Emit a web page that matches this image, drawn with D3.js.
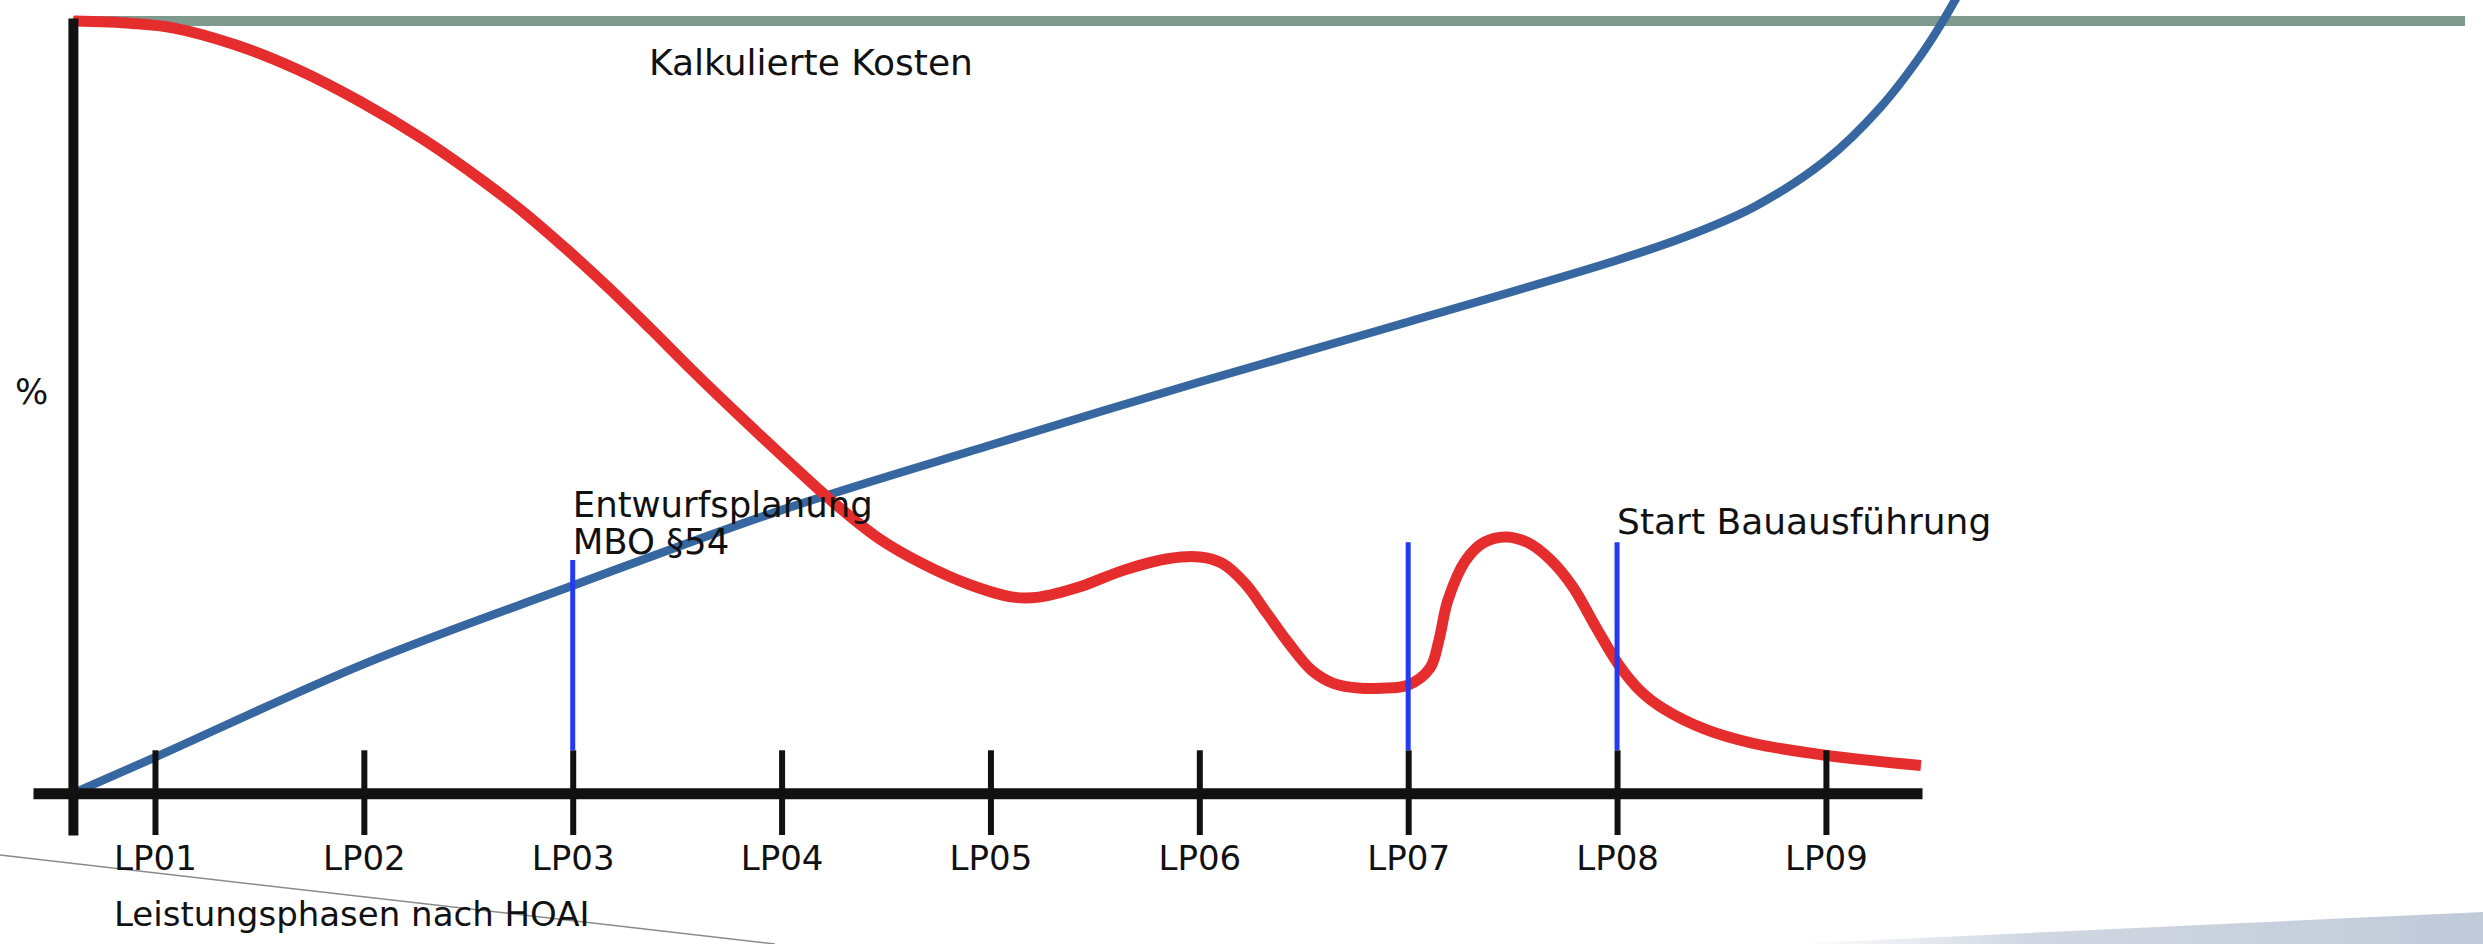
<!doctype HTML>
<html>
<head>
    <script src="https://d3js.org/d3.v7.min.js"></script>
    <style>
        body { margin: 0; background: #fff; }
        text { font-family: "DejaVu Sans", Verdana, sans-serif; fill: #111; }
    </style>
</head>
<body>
<script>

    // phases on the x axis (index 1..9)
    var phaseIdx = [1, 2, 3, 4, 5, 6, 7, 8, 9];
    var phaseLabels = ["LP01", "LP02", "LP03", "LP04", "LP05", "LP06", "LP07", "LP08", "LP09"];

    // red curve: influence on costs (phase position, percent)
    var redT = [0.612, 0.890, 1.091, 1.388, 1.685, 1.981, 2.283, 2.580, 2.776, 2.977, 3.174, 3.375, 3.571,
        3.825, 4.035, 4.251, 4.466, 4.677, 4.892, 5.108, 5.232, 5.424, 5.639, 5.855, 6.003, 6.108, 6.218,
        6.324, 6.429, 6.539, 6.645, 6.774, 6.870, 6.999, 7.104, 7.147, 7.190, 7.276, 7.363, 7.468, 7.578,
        7.683, 7.789, 7.899, 8.004, 8.110, 8.220, 8.430, 8.646, 9.005, 9.455];
    var redV = [100, 99.7, 99.1, 96.9, 93.7, 89.6, 84.7, 79.1, 75.0, 70.3, 65.4, 60.1, 54.8,
        48.2, 42.9, 37.6, 33.0, 29.7, 27.1, 25.4, 25.4, 26.7, 28.9, 30.4, 30.6, 29.8, 27.2,
        23.3, 19.4, 15.9, 14.2, 13.6, 13.6, 14.0, 16.2, 19.8, 25.0, 30.2, 32.5, 33.2, 32.4,
        30.2, 26.7, 21.5, 16.8, 13.3, 11.0, 8.2, 6.5, 4.9, 3.6];

    // blue curve: accumulated costs
    var blueT = [0.607, 1, 2.005, 3.001, 4.002, 5.002, 5.993, 6.994, 7.995, 8.33, 8.66, 9.0, 9.26, 9.45, 9.56, 9.7];
    var blueV = [0, 4.66, 16.8, 26.9, 36.7, 45.1, 53.2, 61.0, 69.0, 72.1, 76.0, 82.0, 88.8, 95.4, 100, 106.7];

    // calculated costs line (100 %)
    var kostenT = [0.607, 12.06];
    var kostenV = [100, 100];

    // milestone markers
    var markerT = [3, 7, 8];
    var markerTop = [30.2, 32.5, 32.5];

    var width = 2483, height = 944;

    var svg = d3.select("body")
        .append("svg")
        .attr("width", width)
        .attr("height", height);

    var x = d3.scaleLinear().domain([0.416, 9.46]).range([33, 1922]);
    var y = d3.scaleLinear().domain([-5.4, 100.4]).range([835, 18]);
    var yAxisT = 0.607;

    // light wedge bottom right
    var grad = svg.append("defs").append("linearGradient")
        .attr("id", "wedge")
        .attr("x1", "0%").attr("x2", "100%").attr("y1", "0%").attr("y2", "0%");
    grad.append("stop").attr("offset", "0%").attr("stop-color", "#c8d0dd").attr("stop-opacity", 0);
    grad.append("stop").attr("offset", "35%").attr("stop-color", "#c8d0dd").attr("stop-opacity", 0.85);
    grad.append("stop").attr("offset", "100%").attr("stop-color", "#c0cad8").attr("stop-opacity", 1);
    svg.append("polygon")
        .attr("points", "1790,944 2483,912 2483,944")
        .attr("fill", "url(#wedge)");

    // thin grey line bottom left
    svg.append("line")
        .attr("x1", 0).attr("y1", 855)
        .attr("x2", 775).attr("y2", 944)
        .attr("stroke", "#8a8a8a")
        .attr("stroke-width", 1.5);

    var line = d3.line()
        .x(function(d) { return x(d[0]); })
        .y(function(d) { return y(d[1]); })
        .curve(d3.curveCatmullRom.alpha(0.5));

    // calculated costs
    svg.append("path")
        .datum(d3.zip(kostenT, kostenV))
        .attr("fill", "none")
        .attr("stroke", "#7f998e")
        .attr("stroke-width", 10)
        .attr("d", d3.line().x(function(d) { return x(d[0]); }).y(function(d) { return y(d[1]); }));

    // blue curve
    svg.append("path")
        .datum(d3.zip(blueT, blueV))
        .attr("fill", "none")
        .attr("stroke", "#3767a0")
        .attr("stroke-width", 8.5)
        .attr("stroke-linecap", "round")
        .attr("d", line);

    // red curve
    svg.append("path")
        .datum(d3.zip(redT, redV))
        .attr("fill", "none")
        .attr("stroke", "#e52d2d")
        .attr("stroke-width", 11)
        .attr("d", line);

    // x axis with ticks crossing the axis line
    var xAxis = svg.append("g")
        .attr("transform", "translate(0," + y(0) + ")")
        .call(d3.axisBottom(x)
            .tickValues(phaseIdx)
            .tickFormat(function(d, i) { return phaseLabels[i]; })
            .tickSizeInner(y(-5.4) - y(0))
            .tickSizeOuter(0)
            .tickPadding(11));
    xAxis.select(".domain")
        .attr("stroke", "#111")
        .attr("stroke-width", 11);
    xAxis.selectAll(".tick line")
        .attr("stroke", "#111")
        .attr("stroke-width", 6)
        .attr("y1", y(5.57) - y(0));
    xAxis.selectAll(".tick text")
        .attr("font-size", "34px")
        .attr("font-family", "DejaVu Sans")
        .attr("fill", "#111");

    // y axis, just the line
    var yAxis = svg.append("g")
        .attr("transform", "translate(" + x(yAxisT) + ",0)")
        .call(d3.axisLeft(y).tickValues([]).tickSizeOuter(0));
    yAxis.select(".domain")
        .attr("stroke", "#111")
        .attr("stroke-width", 10);

    // milestone markers
    svg.selectAll(".marker")
        .data(markerT)
        .enter().append("line")
        .attr("class", "marker")
        .attr("x1", function(d) { return x(d); })
        .attr("x2", function(d) { return x(d); })
        .attr("y1", function(d, i) { return y(markerTop[i]); })
        .attr("y2", y(5.57))
        .attr("stroke", "#2439f2")
        .attr("stroke-width", 5);

    // labels
    svg.append("text")
        .attr("x", 649).attr("y", 75)
        .attr("font-size", "36px")
        .text("Kalkulierte Kosten");

    svg.append("text")
        .attr("x", 15).attr("y", 404)
        .attr("font-size", "35px")
        .text("%");

    svg.append("text")
        .attr("x", x(3)).attr("y", 517)
        .attr("font-size", "35.5px")
        .text("Entwurfsplanung");
    svg.append("text")
        .attr("x", x(3)).attr("y", 554)
        .attr("font-size", "35.5px")
        .text("MBO §54");

    svg.append("text")
        .attr("x", x(8)).attr("y", 534)
        .attr("font-size", "36px")
        .text("Start Bauausführung");

    svg.append("text")
        .attr("x", 114).attr("y", 926)
        .attr("font-size", "34px")
        .text("Leistungsphasen nach HOAI");

</script>
</body>
</html>
